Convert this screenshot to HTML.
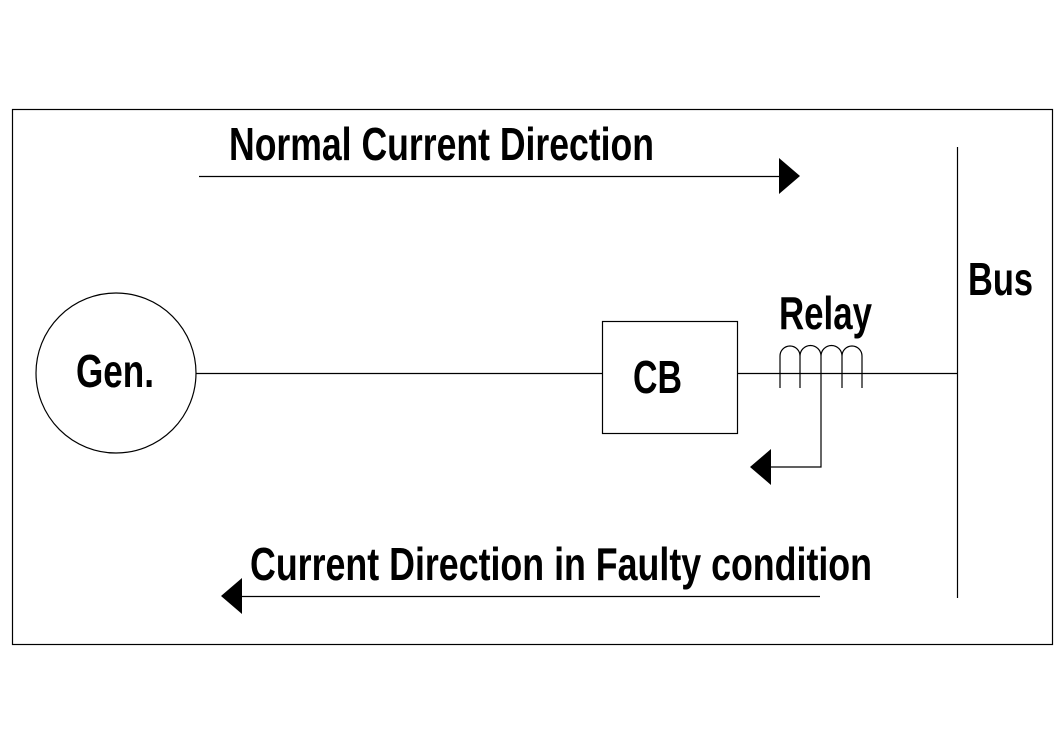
<!DOCTYPE html>
<html><head><style>html,body{margin:0;padding:0;background:#fff}</style></head><body>
<svg width="1055" height="746" xmlns="http://www.w3.org/2000/svg" style="display:block">
<rect x="0" y="0" width="1055" height="746" fill="#fff"/>
<g stroke="#000" stroke-width="1.2" fill="none">
<rect x="12.5" y="109.5" width="1040" height="535"/>
<circle cx="116" cy="373" r="80"/>
<rect x="602.5" y="321.5" width="135" height="112"/>
<line x1="196" y1="373.5" x2="602" y2="373.5"/>
<line x1="737" y1="373.5" x2="957" y2="373.5"/>
<line x1="957.5" y1="147" x2="957.5" y2="598"/>
<line x1="199" y1="176.5" x2="782" y2="176.5"/>
<line x1="240" y1="596.5" x2="820" y2="596.5"/>
<path d="M780 388 V356 A10 10 0 0 1 800 356 V388 M800 356 A10.5 10.5 0 0 1 821 356 V467 H770 M821 356 A10.5 10.5 0 0 1 842 356 V388 M842 356 A10 10 0 0 1 862 356 V388"/>
</g>
<g fill="#000">
<polygon points="779,158 800,176 779,194"/>
<polygon points="242,578 221,596 242,614"/>
<polygon points="771,449 750,467 771,485"/>
</g>
<g font-family="Liberation Sans, sans-serif" font-weight="bold" font-size="46" fill="#000">
<text x="229" y="160" textLength="425" lengthAdjust="spacingAndGlyphs">Normal Current Direction</text>
<text x="968" y="295" textLength="65" lengthAdjust="spacingAndGlyphs">Bus</text>
<text x="779" y="329" textLength="93" lengthAdjust="spacingAndGlyphs">Relay</text>
<text x="76" y="387" textLength="78" lengthAdjust="spacingAndGlyphs">Gen.</text>
<text x="633" y="393" textLength="49" lengthAdjust="spacingAndGlyphs">CB</text>
<text x="250" y="580" textLength="622" lengthAdjust="spacingAndGlyphs">Current Direction in Faulty condition</text>
</g>
</svg>
</body></html>
